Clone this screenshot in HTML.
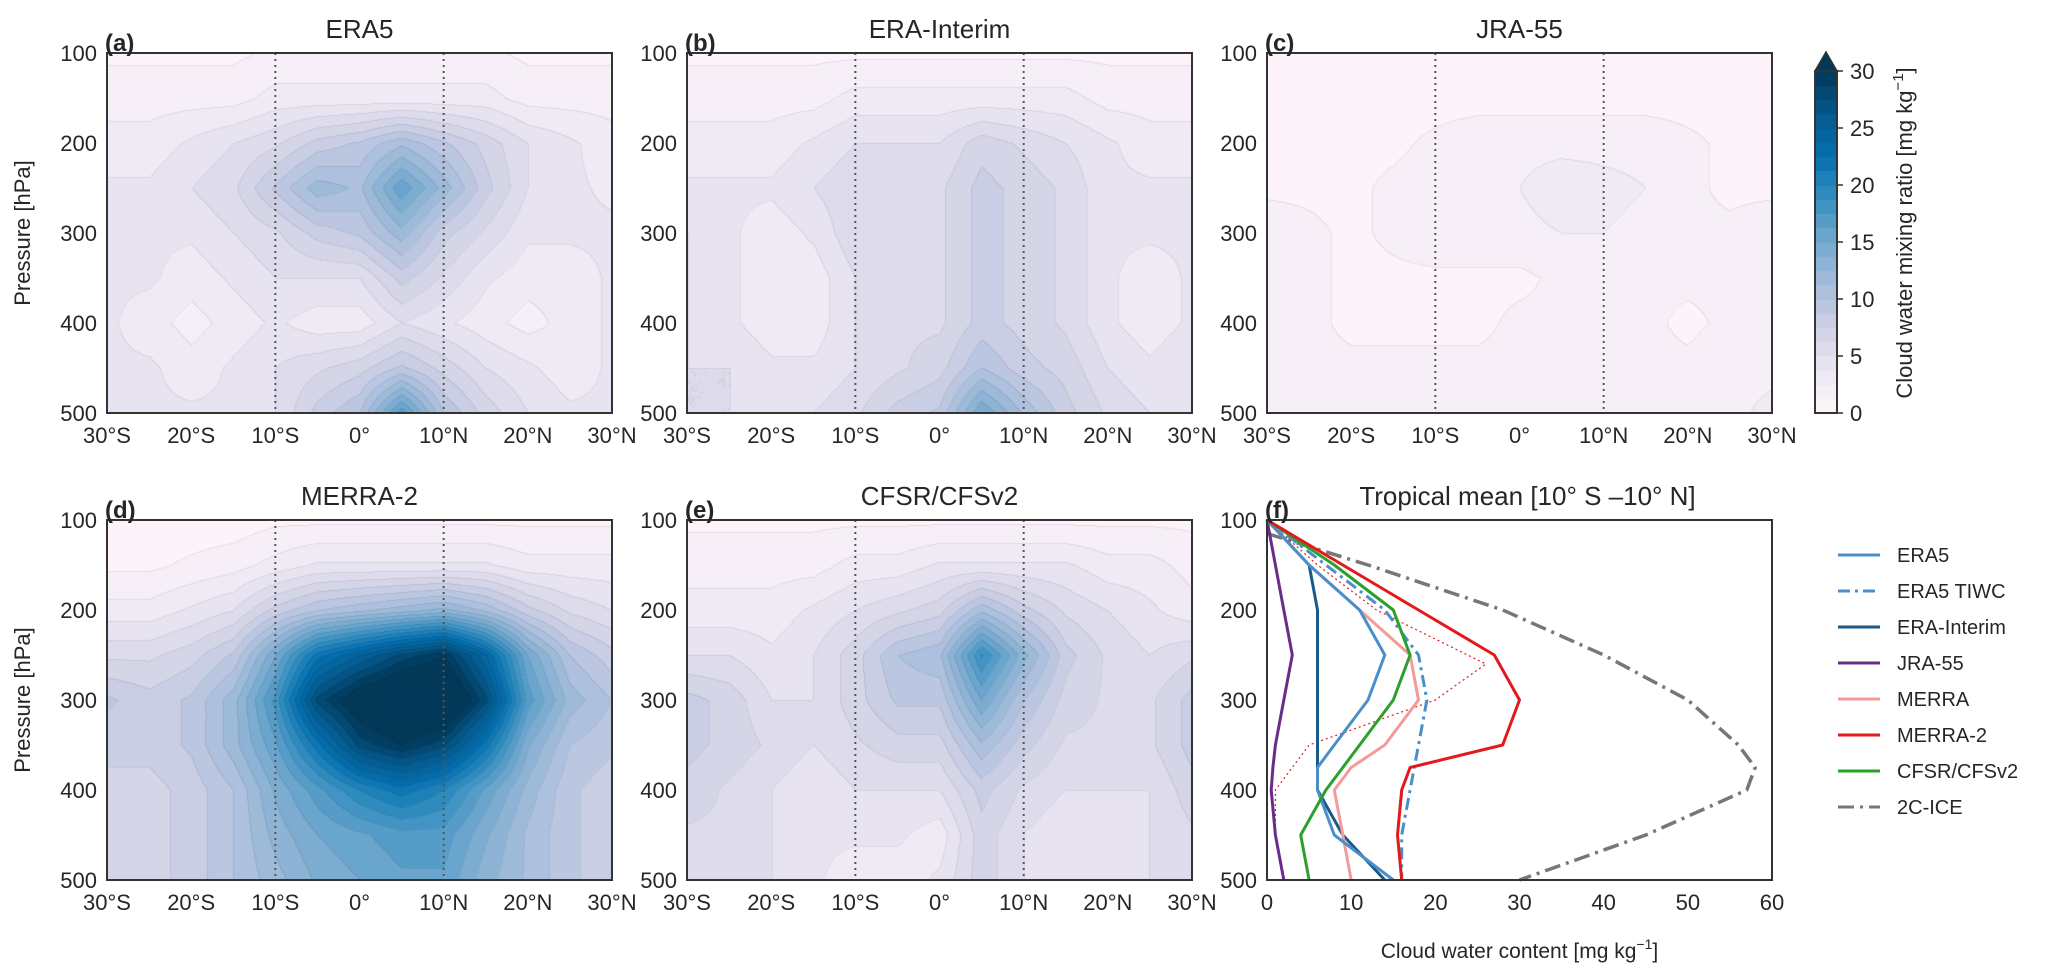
<!DOCTYPE html>
<html><head><meta charset="utf-8"><style>
body{margin:0;background:#fff;width:2067px;height:974px;overflow:hidden;position:relative;font-family:"Liberation Sans",sans-serif}
canvas{position:absolute}
svg{position:absolute;left:0;top:0}
text{font-family:"Liberation Sans",sans-serif;fill:#262626}
</style></head><body>
<canvas id="cv-a" width="505" height="360" style="left:107px;top:53px"></canvas>
<canvas id="cv-b" width="505" height="360" style="left:687px;top:53px"></canvas>
<canvas id="cv-c" width="505" height="360" style="left:1267px;top:53px"></canvas>
<canvas id="cv-d" width="505" height="360" style="left:107px;top:520px"></canvas>
<canvas id="cv-e" width="505" height="360" style="left:687px;top:520px"></canvas>
<canvas id="cv-cb" width="22" height="342" style="left:1815px;top:71px"></canvas>
<svg id="ov" width="2067" height="974"></svg>
<script>
// ---- data ----
const lats=[-30,-25,-20,-15,-10,-5,0,5,10,15,20,25,30];
const levels=[100,150,200,250,300,350,400,450,500];
const fieldA=[[1,1,1,1,1.5,1.5,1.5,1.5,1.5,1.5,1,1,1],[2,2,2,2,3,3,3,3,3,3,2,2,2],[3,3,4,5,6,8,9,11,9,7,5,4,3],[4,4,5,6,9,12,11,16,12,8,5,4,3.5],[5,4,4,5,6,8,9,12,8,6,4,4,4],[4,4,3,4,5,5,5,8,6,4,3,3,4],[4,3,2,3,4,3,3,5,4,3,2,3,4],[4,4,3,4,5,6,7,9,7,5,4,3,4],[4,4,4,4,5,8,10,17,10,7,5,4,4]];
const fieldB=[[1,1,1,1,1,1,1,1,1,1,1,1,1],[2,2,2,2,3,3,3,3,3,3,2,2,2],[3,3,3,4,5,5,5,7,6,5,4,3,3],[4,4,4,5,6,6,6,8,7,6,4,4,4],[5,4,3,4,6,6,6,8,7,6,4,4,4],[5,4,3,3,5,6,6,8,7,6,4,3,4],[5,4,3,3,5,6,6,8,7,6,4,3,4],[5,5,4,4,5,6,7,10,8,7,5,4,5],[5,5,5,5,6,8,9,15,11,8,6,5,5]];
const fieldC=[[0.5,0.5,0.5,0.5,0.5,0.5,0.5,0.5,0.5,0.5,0.5,0.5,0.5],[0.8,0.8,0.8,0.8,0.8,0.8,0.8,0.8,0.8,0.8,0.8,0.8,0.8],[1,1,1,1,1.5,2,2,2,2,2,1.5,1,1],[1,1,1,1.5,2,2,2.5,3.5,3,2.5,1.5,1,1],[2,1.5,1,1.5,2,2,2,2.5,2.5,2,1.5,1.5,2],[2,1.5,1,1,1,1,1,1.5,1.5,1.5,1.5,1.5,2],[2,1.5,1,1,1,1,1.5,1.5,1.5,1.5,1,1.5,2],[2,1.5,1.5,1.5,1.5,1.5,1.5,1.5,1.5,1.5,1.5,2,2],[2.5,2,1.5,1.5,1.5,2,2,2,2,2,1.5,2,3]];
const fieldD=[[0.5,0.5,0.5,0.5,1,1,1,1,1,1,1,1,1],[1,1,1.5,2,3,4,4,4,4,4,3,3,3],[3,3,4,5,8,10,11,12,13,11,8,6,5],[6,6,7,9,15,22,25,28,30,24,15,10,8],[9,8,9,12,18,28,32,34,34,28,17,12,10],[8,8,9,12,16,22,28,30,28,22,14,10,9],[7,7,8,10,14,17,20,22,20,16,12,9,8],[7,7,8,10,13,15,16,17,17,14,11,9,8],[7,7,8,10,12,14,15,16,16,13,11,9,8]];
const fieldE=[[1,1,1,1,1,1,1,1,1,1,1,1,1],[2,2,2,2,3,3,4,4,4,4,3,3,2],[3,3,3,4,5,6,7,11,8,6,5,4,3],[5,5,4,5,7,10,11,19,13,8,6,5,6],[8,7,5,5,7,9,9,15,10,7,6,6,8],[8,7,6,5,6,7,7,11,8,6,6,6,8],[7,6,5,4,5,5,5,8,6,5,5,5,7],[6,6,5,4,4,4,3,7,5,4,4,5,6],[6,6,5,4,3,3,4,7,5,4,4,5,6]];
// panel f profiles (pressure levels hPa, values mg/kg)
const pLev=[100,150,200,250,300,350,375,400,450,500];
const era5=[0,5,11,14,12,8,6,6,8,15];
const era5tiwc=[0,7,14,18,19,18,17.5,17,16,16];
const eraInterim=[0,5,6,6,6,6,6,6,9,14];
const jra55=[0,1,2,3,2,1,0.7,0.5,1,2];
const merra=[0,5,11,17,18,14,10,8,9,10];
const merra2=[0,9,18,27,30,28,17,16,15.5,16];
const cfsr=[0,8,15,17,15,11,9,7,4,5];
const iceLev=[115,150,200,250,300,350,375,400,450,500];
const ice2c=[0,12,28,40,50,56,58,57,45,30];
const merra2dotLev=[100,150,200,260,300,350,400,450,500];
const merra2dot=[0,6,13,26,20,5,1,1,2];
const latTicks=['30°S','20°S','10°S','0°','10°N','20°N','30°N'];
const latTickVals=[-30,-20,-10,0,10,20,30];
const pTicks=[100,200,300,400,500];
const xfTicks=[0,10,20,30,40,50,60];
const cbTicks=[0,5,10,15,20,25,30];

// ---- colormap ----
const stops=[[255,247,251],[236,231,242],[208,209,230],[166,189,219],[116,169,207],[54,144,192],[5,112,176],[4,90,141],[2,56,88]];
function cmap(v){let t=Math.max(0,Math.min(1,v/30))*8;let i=Math.min(7,Math.floor(t)),f=t-i;const a=stops[i],b=stops[i+1];return [a[0]+(b[0]-a[0])*f,a[1]+(b[1]-a[1])*f,a[2]+(b[2]-a[2])*f];}
function sample(F,lat,p){let fx=(lat+30)/5,fy=(p-100)/50;let i=Math.min(11,Math.floor(fx)),j=Math.min(7,Math.floor(fy));let u=fx-i,w=fy-j;
 return F[j][i]*(1-u)*(1-w)+F[j][i+1]*u*(1-w)+F[j+1][i]*(1-u)*w+F[j+1][i+1]*u*w;}
function drawField(id,F){const c=document.getElementById(id),ctx=c.getContext('2d'),W=c.width,H=c.height;const img=ctx.createImageData(W,H);
 const q=new Float32Array(W*H);
 for(let y=0;y<H;y++)for(let x=0;x<W;x++){const v=sample(F,-30+60*x/(W-1),100+400*y/(H-1));q[y*W+x]=Math.min(31,Math.floor(v/1.25)*1.25);}
 for(let y=0;y<H;y++)for(let x=0;x<W;x++){const k=y*W+x;let col=cmap(q[k]+0.6);
  const edge=(x>0&&q[k-1]!=q[k])||(y>0&&q[k-W]!=q[k]);if(edge){col=col.map(c=>c*0.93);}
  img.data[4*k]=col[0];img.data[4*k+1]=col[1];img.data[4*k+2]=col[2];img.data[4*k+3]=255;}
 ctx.putImageData(img,0,0);}
drawField('cv-a',fieldA);drawField('cv-b',fieldB);drawField('cv-c',fieldC);drawField('cv-d',fieldD);drawField('cv-e',fieldE);
(function(){const c=document.getElementById('cv-cb'),ctx=c.getContext('2d');for(let y=0;y<c.height;y++){const v=Math.floor(30*(1-y/c.height)/1.25)*1.25+0.6;const col=cmap(v);ctx.fillStyle=`rgb(${col[0]|0},${col[1]|0},${col[2]|0})`;ctx.fillRect(0,y,c.width,1);}})();

// ---- svg ----
const NS='http://www.w3.org/2000/svg',svg=document.getElementById('ov');
function el(tag,attrs,parent,txt){const e=document.createElementNS(NS,tag);for(const k in attrs)e.setAttribute(k,attrs[k]);if(txt!==undefined)e.textContent=txt;(parent||svg).appendChild(e);return e;}
const panels=[{id:'a',x:107,y:53,t:'ERA5',n:'era5'},{id:'b',x:687,y:53,t:'ERA-Interim',n:'era-interim'},{id:'c',x:1267,y:53,t:'JRA-55',n:'jra55'},{id:'d',x:107,y:520,t:'MERRA-2',n:'merra2'},{id:'e',x:687,y:520,t:'CFSR/CFSv2',n:'cfsr'}];
const PW=505,PH=360;
function yP(p,y0){return y0+(p-100)/400*PH;}
function yAxis(x0,y0,g){pTicks.forEach(p=>{const t=el('text',{x:x0-10,y:yP(p,y0)+8,'text-anchor':'end','font-size':22},g,p);});}
panels.forEach(P=>{const g=el('g',{});
 const xL=lat=>P.x+(lat+30)/60*PW;
 [-10,10].forEach(l=>{const d=el('line',{x1:xL(l),x2:xL(l),y1:P.y,y2:P.y+PH,stroke:'#555','stroke-width':2,'stroke-dasharray':'2,4'},g);});
 const r=el('rect',{x:P.x,y:P.y,width:PW,height:PH,fill:'none',stroke:'#333','stroke-width':2},g);
 latTickVals.forEach((l,i)=>{const t=el('text',{x:xL(l),y:P.y+PH+30,'text-anchor':'middle','font-size':22},g,latTicks[i]);});
 yAxis(P.x,P.y,g);
 const tt=el('text',{x:P.x+PW/2,y:P.y-15,'text-anchor':'middle','font-size':26},g,P.t);
 const pl=el('text',{x:P.x-2,y:P.y-2,'font-size':24,'font-weight':'bold'},g,'('+P.id+')');
});
[233,700].forEach(cy=>{const t=el('text',{x:0,y:0,'text-anchor':'middle','font-size':22,transform:`translate(30,${cy}) rotate(-90)`},svg,'Pressure [hPa]');});
// colorbar
const cbg=el('g',{});
el('polygon',{points:'1815,71 1837,71 1826,52',fill:'#023858',stroke:'#333','stroke-width':1.5},cbg);
el('rect',{x:1815,y:71,width:22,height:342,fill:'none',stroke:'#333','stroke-width':2},cbg);
cbTicks.forEach(v=>{const y=413-v/30*342;el('line',{x1:1837,x2:1843,y1:y,y2:y,stroke:'#333','stroke-width':1.5},cbg);const t=el('text',{x:1850,y:y+8,'font-size':22},cbg,v);});
const cbl=el('text',{x:0,y:0,'text-anchor':'middle','font-size':22,transform:'translate(1912,233) rotate(-90)'},cbg);
cbl.textContent='Cloud water mixing ratio [mg kg';el('tspan',{'font-size':15,dy:-9},cbl,'−1');el('tspan',{dy:9},cbl,']');
// panel f
const F={x:1267,y:520};const xF=v=>F.x+v/60*PW;
const fg=el('g',{});
function series(vals,levs,color,w,dash,name){const pts=vals.map((v,i)=>xF(v).toFixed(1)+','+yP(levs[i],F.y).toFixed(1)).join(' ');const a={points:pts,fill:'none',stroke:color,'stroke-width':w,'stroke-linejoin':'round'};if(dash)a['stroke-dasharray']=dash;const l=el('polyline',a,fg);}
series(ice2c,iceLev,'#777',3.5,'16,6,3,6','line-2c-ice');
series(merra2dot,merra2dotLev,'#e31a1c',1.2,'2,3','line-merra2-thin');
series(jra55,pLev,'#6a2c8a',3,null,'line-jra55');
series(eraInterim,pLev,'#1a5a8a',3,null,'line-era-interim');
series(merra,pLev,'#f49a9a',3,null,'line-merra');
series(era5,pLev,'#4a8fca',3,null,'line-era5');
series(era5tiwc,pLev,'#4a8fca',3,'12,5,3,5','line-era5-tiwc');
series(cfsr,pLev,'#2ca02c',3,null,'line-cfsr');
series(merra2,pLev,'#e31a1c',3,null,'line-merra2');
el('rect',{x:F.x,y:F.y,width:PW,height:PH,fill:'none',stroke:'#333','stroke-width':2},fg);
yAxis(F.x,F.y,fg);
xfTicks.forEach(v=>{const t=el('text',{x:xF(v),y:F.y+PH+30,'text-anchor':'middle','font-size':22},fg,v);});
const ft=el('text',{x:F.x+PW/2+8,y:F.y-15,'text-anchor':'middle','font-size':26},fg,'Tropical mean [10° S –10° N]');
const fl=el('text',{x:F.x-2,y:F.y-2,'font-size':24,'font-weight':'bold'},fg,'(f)');
const fx=el('text',{x:F.x+PW/2,y:958,'text-anchor':'middle','font-size':21},fg,'Cloud water content [mg kg');
el('tspan',{'font-size':14,dy:-9},fx,'−1');el('tspan',{dy:9},fx,']');
// legend
const legNames=['ERA5','ERA5 TIWC','ERA-Interim','JRA-55','MERRA','MERRA-2','CFSR/CFSv2','2C-ICE'];
const legColors=['#4a8fca','#4a8fca','#1a5a8a','#6a2c8a','#f49a9a','#e31a1c','#2ca02c','#777'];
const legDash=['','12,5,3,5','','','','','','16,6,3,6'];
const lg=el('g',{});
legNames.forEach((n,i)=>{const y=555+i*36;const e=el('g',{},lg);
 const a={x1:1838,x2:1880,y1:y,y2:y,stroke:legColors[i],'stroke-width':3};if(legDash[i])a['stroke-dasharray']=legDash[i];el('line',a,e);
 el('text',{x:1897,y:y+7,'font-size':20},e,n);});
</script></body></html>
